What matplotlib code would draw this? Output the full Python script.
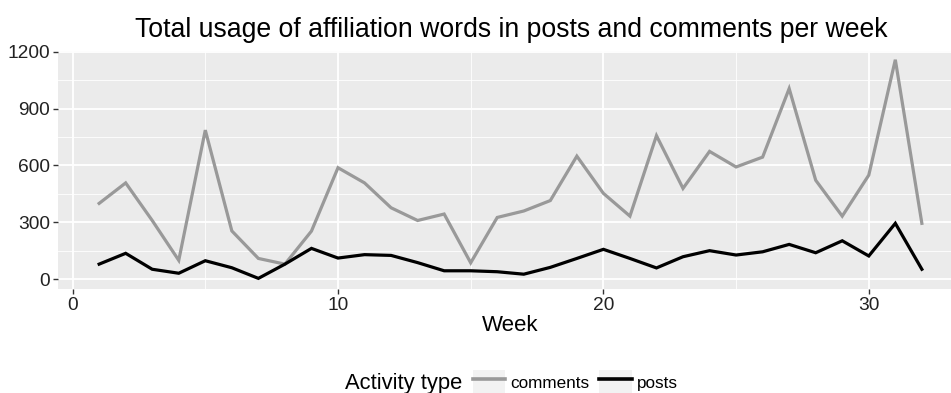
import numpy as np
import matplotlib
matplotlib.use('Agg')
import matplotlib.pyplot as plt
from matplotlib.lines import Line2D
from matplotlib.patches import Patch
from matplotlib.legend_handler import HandlerTuple

plt.rcParams['font.family'] = ['Liberation Sans', 'DejaVu Sans']

weeks = list(range(1, 33))
comments = [400, 508, 310, 100, 786, 255, 110, 80, 254, 588,
            508, 377, 310, 344, 87, 326, 360, 415, 649, 453,
            333, 757, 479, 674, 592, 644, 1005, 522, 333, 549,
            1157, 295]
posts = [80, 137, 53, 32, 98, 61, 5, 80, 163, 112,
         130, 126, 88, 45, 45, 40, 27, 63, 110, 158,
         110, 60, 119, 151, 128, 145, 184, 140, 203, 123,
         295, 53]
series_names = ['comments', 'posts']
series_colors = ['#999999', '#000000']

fig = plt.figure(figsize=(9.51, 3.93), dpi=100)
ax = fig.add_axes([58 / 951, 104 / 393, 905 / 951, 238 / 393])
ax.set_facecolor('#EBEBEB')

ax.plot(weeks, comments, color=series_colors[0], lw=2.3, solid_joinstyle='miter')
ax.plot(weeks, posts, color=series_colors[1], lw=2.3, solid_joinstyle='miter')

ax.set_xlim(-0.55, 33.55)
ax.set_ylim(-51, 1203)
ax.set_xticks([0, 10, 20, 30])
ax.set_yticks([0, 300, 600, 900, 1200])
ax.set_xticks([5, 15, 25], minor=True)
ax.set_yticks([150, 450, 750, 1050], minor=True)
ax.grid(True, which='major', color='white', lw=1.3)
ax.grid(True, which='minor', color='white', lw=0.6)
ax.set_axisbelow(True)
for s in ax.spines.values():
    s.set_visible(False)
ax.tick_params(which='major', length=3.5, width=1.0, color='#333333',
               labelsize=13.8, labelcolor='#222222', pad=2)
ax.tick_params(which='minor', length=0)

ax.set_xlabel('Week', fontsize=16, labelpad=1)

fig.text(511 / 951, 1 - 30 / 393, 'Total usage of affiliation words in posts and comments per week',
         ha='center', va='center', fontsize=19.2)

# legend keys: grey key box with the series line drawn over it
handles = [(Patch(facecolor='#F2F2F2', edgecolor='none'),
            Line2D([], [], color=c, lw=2.6)) for c in series_colors]
fig.text(345 / 951, 1 - 383 / 393, 'Activity type', ha='left', va='center', fontsize=15.8)
fig.legend(handles, series_names, handler_map={tuple: HandlerTuple(ndivide=1, pad=0)},
           loc='center left', bbox_to_anchor=(473 / 951, 1 - 382 / 393), ncol=2,
           frameon=False, fontsize=12.3, handlelength=1.9, handleheight=1.8,
           handletextpad=0.3, columnspacing=0.55, borderpad=0, borderaxespad=0)

fig.savefig('out.png', dpi=100)
